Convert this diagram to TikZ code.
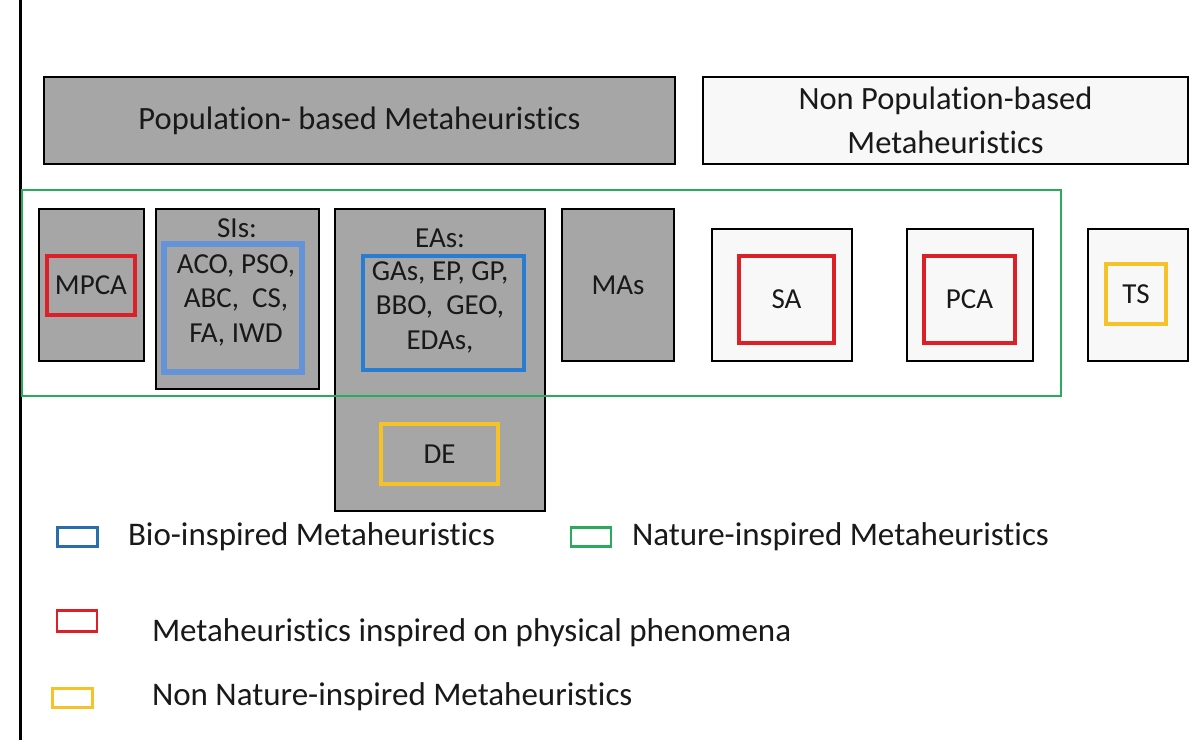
\documentclass[tikz,border=0pt]{standalone}
\usepackage{fontspec}
\setmainfont{Carlito}[Ligatures={NoCommon,NoContextual},Contextuals=NoAlternate]
\definecolor{gfill}{RGB}{166,166,166}
\definecolor{wfill}{RGB}{248,248,248}
\definecolor{mred}{RGB}{220,32,40}
\definecolor{lblue}{RGB}{100,148,215}
\definecolor{mblue}{RGB}{40,125,210}
\definecolor{legblue}{RGB}{40,110,170}
\definecolor{myellow}{RGB}{245,195,40}
\definecolor{mgreen}{RGB}{40,170,95}
\definecolor{txt}{RGB}{25,25,25}
\begin{document}
\begin{tikzpicture}[x=1pt,y=-1pt,
  every node/.style={text=txt, inner sep=0pt, outer sep=0pt},
  graybox/.style={draw=black, fill=gfill, line width=2.8pt},
  whitebox/.style={draw=black, fill=wfill, line width=2.8pt},
  redbox/.style={draw=mred, line width=4.5pt},
  yellowbox/.style={draw=myellow, line width=4.5pt},
  title/.style={font=\fontsize{32.5}{44}\selectfont, align=center},
  itemtxt/.style={font=\fontsize{29}{34.5}\selectfont, align=center},
  legtxt/.style={font=\fontsize{33}{40}\selectfont, anchor=west},
  legbox/.style={line width=2.8pt, minimum width=40pt, minimum height=19pt}
]
\useasboundingbox (0,0) rectangle (1201,745);
\fill[white] (0,0) rectangle (1201,745);

% left vertical rule
\coordinate (vtop) at (20,0);
\coordinate (vbot) at (20,740);
\draw[line width=3pt] (vtop) -- (vbot);

% top boxes
\node[graybox, title, minimum width=631pt, minimum height=87pt] (pop) at (359.5,120.5) {Population- based Metaheuristics};
\node[whitebox, title, minimum width=485pt, minimum height=87pt] (nonpop) at (945.5,120.5) {Non Population-based\\Metaheuristics};

% MPCA
\node[graybox, minimum width=105pt, minimum height=152pt] (mpcaout) at (91.5,285) {};
\node[redbox, itemtxt, minimum width=88pt, minimum height=59pt] (mpca) at (91,285.5) {MPCA};

% SIs
\node[graybox, minimum width=163pt, minimum height=180pt] (sisout) at (237.5,299) {};
\node[itemtxt] (sislabel) at (237,228) {SIs:};
\node[draw=lblue, line width=6.5pt, minimum width=138pt, minimum height=128pt] (sisblue) at (233,308) {};
\node[itemtxt] (sistext) at (236,300) {ACO, PSO,\\ABC,\ \ CS,\\FA, IWD};

% EAs
\node[graybox, minimum width=210pt, minimum height=302pt] (easout) at (440,360) {};
\node[itemtxt] (easlabel) at (440,238) {EAs:};
\node[draw=mblue, line width=4.5pt, minimum width=161pt, minimum height=114pt] (easblue) at (443.5,313) {};
\node[itemtxt] (eastext) at (440,307) {GAs, EP, GP,\\BBO,\ \ GEO,\\EDAs,};
\node[yellowbox, itemtxt, minimum width=117pt, minimum height=60pt] (de) at (439.5,454) {DE};

% MAs
\node[graybox, itemtxt, minimum width=112pt, minimum height=152pt] (mas) at (618,285) {MAs};

% SA
\node[whitebox, minimum width=140pt, minimum height=132pt] (saout) at (782,295) {};
\node[redbox, itemtxt, minimum width=95pt, minimum height=87pt] (sa) at (786.5,299.5) {SA};

% PCA
\node[whitebox, minimum width=126pt, minimum height=132pt] (pcaout) at (970,295) {};
\node[redbox, itemtxt, minimum width=91pt, minimum height=87pt] (pca) at (969.5,299.5) {PCA};

% TS
\node[whitebox, minimum width=100pt, minimum height=132pt] (tsout) at (1138,295) {};
\node[yellowbox, itemtxt, minimum width=60pt, minimum height=60pt] (ts) at (1136,294) {TS};

% nature-inspired frame (drawn on top)
\node[draw=mgreen, line width=2.8pt, minimum width=1039pt, minimum height=206pt] (nature) at (541.5,293) {};

% legend
\node[legbox, draw=legblue] (lb) at (77.5,537) {};
\node[legtxt] (lbt) at (128,537) {Bio-inspired Metaheuristics};
\node[legbox, draw=mgreen] (lg) at (591,537) {};
\node[legtxt] (lgt) at (632,537) {Nature-inspired Metaheuristics};
\node[legbox, draw=mred, minimum height=21pt] (lr) at (77,621) {};
\node[legtxt] (lrt) at (152,633) {Metaheuristics inspired on physical phenomena};
\node[legbox, draw=myellow] (ly) at (72.5,698) {};
\node[legtxt] (lyt) at (152,697) {Non Nature-inspired Metaheuristics};
\end{tikzpicture}
\end{document}
